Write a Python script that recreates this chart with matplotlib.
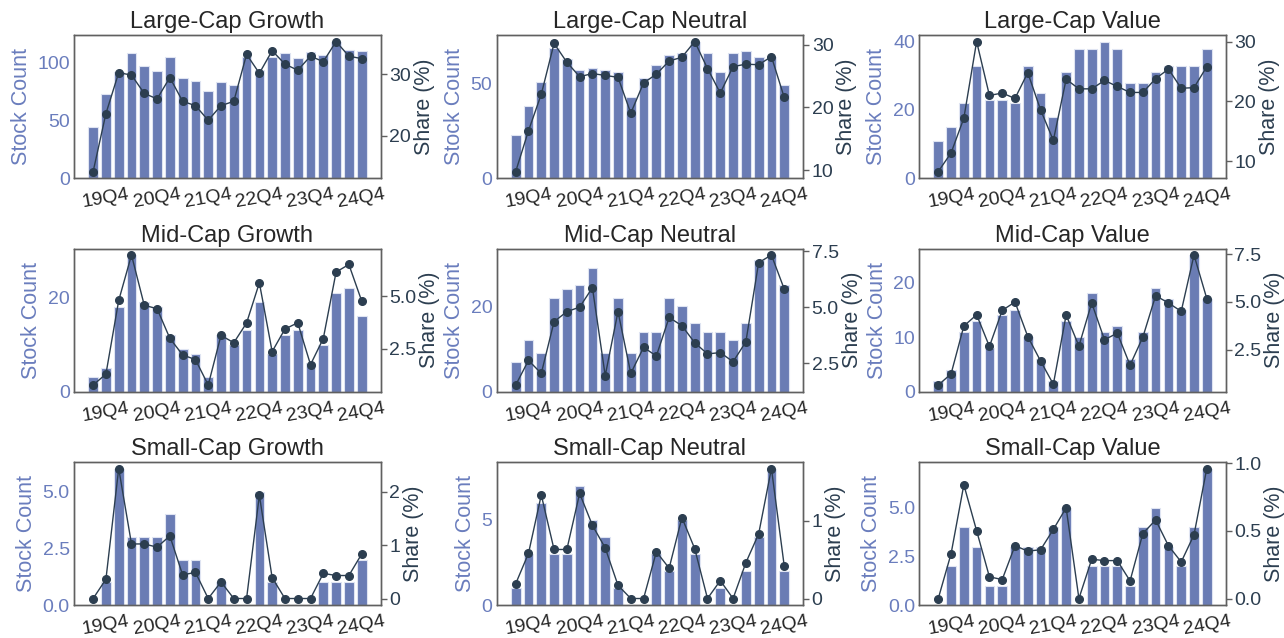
import matplotlib
matplotlib.use("Agg")
import matplotlib.pyplot as plt
from matplotlib.ticker import MaxNLocator
import numpy as np

plt.rcParams['font.family'] = ['Liberation Sans', 'DejaVu Sans']

# quarters on the x axis
quarters = ['19Q3', '19Q4', '20Q1', '20Q2', '20Q3', '20Q4', '21Q1', '21Q2',
            '21Q3', '21Q4', '22Q1', '22Q2', '22Q3', '22Q4', '23Q1', '23Q2',
            '23Q3', '23Q4', '24Q1', '24Q2', '24Q3', '24Q4']
tick_quarters = ['19Q4', '20Q4', '21Q4', '22Q4', '23Q4', '24Q4']

# stock counts (bars) and share in % (line) per style box
large_growth_count = [44, 73, 92, 108, 97, 93, 105, 87, 84, 75, 83, 81,
                      105, 94, 105, 108, 104, 109, 107, 118, 111, 110]
large_growth_share = [14.1, 23.6, 30.3, 29.9, 26.9, 26.0, 29.5, 25.6, 24.9, 22.5, 24.9, 25.6,
                      33.3, 30.2, 33.9, 31.7, 30.7, 33.0, 32.1, 35.4, 33.0, 32.6]

large_neutral_count = [23, 38, 51, 69, 63, 57, 58, 57, 56, 43, 53, 60,
                       65, 66, 72, 66, 56, 66, 67, 64, 64, 49]
large_neutral_share = [9.8, 16.3, 22.1, 30.2, 27.2, 24.9, 25.4, 25.1, 24.8, 19.1, 23.9, 25.3,
                       27.4, 28.0, 30.5, 26.2, 22.3, 26.5, 26.9, 26.8, 28.1, 21.6]

large_value_count = [11, 15, 22, 33, 23, 23, 22, 33, 25, 18, 31, 38,
                     38, 40, 38, 28, 28, 31, 33, 33, 33, 38]
large_value_share = [8.3, 11.4, 17.2, 30.0, 21.0, 21.4, 20.5, 24.8, 18.6, 13.5, 23.7, 22.1,
                     22.1, 23.5, 22.5, 21.5, 21.5, 23.8, 25.4, 22.2, 22.3, 25.8]

mid_growth_count = [3, 5, 18, 29, 19, 18, 12, 9, 8, 3, 12, 10,
                    13, 19, 8, 12, 13, 6, 10, 21, 22, 16]
mid_growth_share = [0.78, 1.3, 4.8, 6.96, 4.57, 4.41, 3.0, 2.21, 1.99, 0.78, 3.14, 2.79,
                    3.73, 5.64, 2.37, 3.44, 3.74, 1.75, 2.99, 6.15, 6.51, 4.78]

mid_neutral_count = [7, 12, 9, 22, 24, 25, 29, 9, 22, 9, 14, 14,
                     22, 20, 16, 14, 14, 12, 16, 31, 32, 25]
mid_neutral_share = [1.53, 2.63, 2.05, 4.36, 4.81, 5.01, 5.88, 1.95, 4.81, 2.05, 3.21, 2.83,
                     4.55, 4.18, 3.42, 2.92, 2.98, 2.57, 3.46, 7.0, 7.34, 5.82]

mid_value_count = [2, 4, 11, 13, 8, 14, 15, 10, 6, 2, 13, 10,
                   18, 11, 12, 6, 11, 19, 17, 15, 25, 17]
mid_value_share = [0.64, 1.22, 3.73, 4.32, 2.66, 4.55, 4.99, 3.18, 1.9, 0.68, 4.31, 2.68,
                   4.94, 3.01, 3.36, 1.68, 3.15, 5.32, 4.94, 4.5, 7.45, 5.17]

small_growth_count = [0, 1, 6, 3, 3, 3, 4, 2, 2, 0, 1, 0,
                      0, 5, 1, 0, 0, 0, 1, 1, 1, 2]
small_growth_share = [0, 0.36, 2.43, 1.02, 1.02, 0.96, 1.17, 0.44, 0.49, 0, 0.31, 0,
                      0, 1.93, 0.39, 0, 0, 0, 0.47, 0.43, 0.43, 0.83]

small_neutral_count = [1, 3, 6, 3, 3, 7, 5, 4, 1, 0, 0, 3,
                       2, 5, 3, 0, 1, 0, 2, 4, 8, 2]
small_neutral_share = [0.19, 0.58, 1.33, 0.63, 0.63, 1.35, 0.94, 0.65, 0.17, 0, 0, 0.6,
                       0.39, 1.04, 0.64, 0, 0.23, 0, 0.46, 0.83, 1.67, 0.42]

small_value_count = [0, 2, 4, 3, 1, 1, 3, 3, 3, 4, 5, 0,
                     2, 2, 2, 1, 4, 5, 3, 2, 4, 7]
small_value_share = [0, 0.33, 0.84, 0.5, 0.16, 0.14, 0.39, 0.35, 0.36, 0.51, 0.67, 0,
                     0.29, 0.28, 0.28, 0.13, 0.48, 0.58, 0.39, 0.27, 0.47, 0.96]

titles = ['Large-Cap Growth', 'Large-Cap Neutral', 'Large-Cap Value',
          'Mid-Cap Growth', 'Mid-Cap Neutral', 'Mid-Cap Value',
          'Small-Cap Growth', 'Small-Cap Neutral', 'Small-Cap Value']
counts = [large_growth_count, large_neutral_count, large_value_count,
          mid_growth_count, mid_neutral_count, mid_value_count,
          small_growth_count, small_neutral_count, small_value_count]
shares = [large_growth_share, large_neutral_share, large_value_share,
          mid_growth_share, mid_neutral_share, mid_value_share,
          small_growth_share, small_neutral_share, small_value_share]

BAR = '#6a7cb4'
BLUE = '#6a7dbd'
LINE = '#2c3e50'
SPINE = '#606060'
STEPS = [1, 2, 2.5, 5, 10]

fig, axes = plt.subplots(3, 3, figsize=(12.84, 6.38), dpi=100)
fig.subplots_adjust(left=0.0576, right=0.9548, top=0.9451, bottom=0.0517,
                    wspace=0.377, hspace=0.493)

x = np.arange(len(quarters))
tick_pos = [quarters.index(q) for q in tick_quarters]

for ax, title, count, share in zip(axes.flat, titles, counts, shares):
    ax.bar(x, count, width=0.76, color=BAR, edgecolor='#dfe4f2', linewidth=0.8)
    ax.set_xlim(-1.5, len(quarters) + 0.5)
    ax.set_xticks(tick_pos)
    ax.set_xticklabels(tick_quarters, rotation=10)
    ax.tick_params(axis='x', length=0, pad=6, labelsize=14, labelcolor='#262626')
    ax.tick_params(axis='y', length=0, pad=3, labelsize=14, labelcolor=BLUE)
    ax.yaxis.set_major_locator(MaxNLocator(3, steps=STEPS))
    ax.set_ylabel('Stock Count', color=BLUE, fontsize=15.5)
    ax.set_title(title, fontsize=17, color='#262626', pad=5)

    ax2 = ax.twinx()
    ax2.plot(x, share, color=LINE, lw=1, marker='o', ms=5.5)
    ax2.yaxis.set_major_locator(MaxNLocator(3, steps=STEPS))
    ax2.tick_params(axis='y', length=4, width=1, color=SPINE, pad=2,
                    labelsize=14, labelcolor=LINE)
    ax2.set_ylabel('Share (%)', color=LINE, fontsize=15.5, labelpad=2)

    for a in (ax, ax2):
        for sp in a.spines.values():
            sp.set_color(SPINE)
            sp.set_linewidth(1)

fig.savefig('out.png', dpi=100)
